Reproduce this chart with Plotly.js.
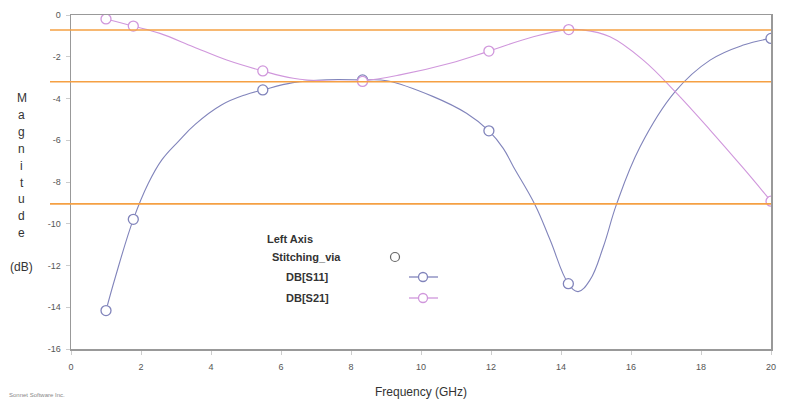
<!DOCTYPE html>
<html>
<head>
<meta charset="utf-8">
<script src="https://cdn.plot.ly/plotly-3.0.1.min.js"></script>
<style>html,body{margin:0;padding:0;background:#fff;}#chart{width:785px;height:412px;}</style>
</head>
<body>
<div id="chart"></div>
<script>
// ---- data ----
var s11Freq = [1.0, 1.26, 1.78, 2.21, 2.59, 3.07, 3.54, 4.31, 4.97, 5.48, 6.34, 7.3, 8.33, 9.02, 10.35, 11.3, 11.94, 12.35, 12.64, 13.26, 13.69, 14.21, 14.49, 14.83, 15.21, 15.59, 16.26, 17.26, 18.26, 19.21, 20];
var s11Db   = [-14.16, -12.6, -9.79, -8.06, -6.95, -6.05, -5.25, -4.3, -3.83, -3.59, -3.24, -3.1, -3.11, -3.15, -3.91, -4.71, -5.55, -6.39, -7.27, -9.1, -10.78, -12.87, -13.25, -12.69, -11.1, -9.05, -6.31, -3.67, -2.16, -1.44, -1.12];
var s21Freq = [1.0, 1.78, 2.54, 3.49, 4.45, 5.48, 6.35, 7.3, 8.33, 9.4, 10.83, 11.94, 13.21, 14.22, 14.6, 15.4, 16.35, 17.26, 18.26, 19.21, 20];
var s21Db   = [-0.19, -0.53, -0.88, -1.52, -2.16, -2.68, -3.03, -3.16, -3.15, -2.87, -2.31, -1.73, -1.04, -0.7, -0.71, -1.04, -2.16, -3.67, -5.51, -7.34, -8.92];
var s11MarkFreq = [1.0, 1.78, 5.48, 8.33, 11.94, 14.21, 20];
var s11MarkDb   = [-14.16, -9.79, -3.59, -3.11, -5.55, -12.87, -1.12];
var s21MarkFreq = [1.0, 1.78, 5.48, 8.33, 11.94, 14.22, 20];
var s21MarkDb   = [-0.19, -0.53, -2.68, -3.18, -1.73, -0.7, -8.92];
var refLevels = [-0.72, -3.2, -9.05];
var xTicks = [0, 2, 4, 6, 8, 10, 12, 14, 16, 18, 20];
var yTicks = [0, -2, -4, -6, -8, -10, -12, -14, -16];
var yTitleLetters = ["M", "a", "g", "n", "i", "t", "u", "d", "e"];
var legendTitle = "Left Axis";
var legendGroup = "Stitching_via";
var seriesNames = ["DB[S11]", "DB[S21]"];

var c11 = "#8184bb", c21 = "#d097dc", cOr = "#f5a043";
var FONT = "Liberation Sans, Arial, sans-serif";

var traces = [
  {x: s11Freq, y: s11Db, mode: "lines", line: {color: c11, width: 1.1, shape: "spline", smoothing: 1.15}, showlegend: false, hoverinfo: "skip"},
  {x: s21Freq, y: s21Db, mode: "lines", line: {color: c21, width: 1.1, shape: "spline", smoothing: 1.1}, showlegend: false, hoverinfo: "skip"},
  {x: s11MarkFreq, y: s11MarkDb, mode: "markers", marker: {symbol: "circle", size: 10, color: "#fff", line: {color: c11, width: 1.3}}, showlegend: false},
  {x: s21MarkFreq, y: s21MarkDb, mode: "markers", marker: {symbol: "circle", size: 10, color: "#fff", line: {color: c21, width: 1.3}}, showlegend: false}
];

var shapes = refLevels.map(function (v) {
  return {type: "line", xref: "paper", yref: "y", x0: -0.03, x1: 1, y0: v, y1: v, line: {color: cOr, width: 1.6}, layer: "above"};
});

// legend keys (decorative)
var lgColors = [c11, c21];
var lgY = [277, 298];
var H = 412, W = 785, L = 71, R = 14, T = 15, B = 63;
function px(x) { return (x - L) / (W - L - R); }
function py(y) { return 1 - (y - T) / (H - T - B); }
shapes.push({type: "circle", xref: "paper", yref: "paper", xsizemode: "pixel", ysizemode: "pixel", xanchor: px(395), yanchor: py(257), x0: -4.5, x1: 4.5, y0: -4.5, y1: 4.5, line: {color: "#666", width: 1.2}, fillcolor: "#fff"});
lgColors.forEach(function (c, i) {
  shapes.push({type: "line", xref: "paper", yref: "paper", x0: px(409), x1: px(438), y0: py(lgY[i]), y1: py(lgY[i]), line: {color: c, width: 1.3}});
  shapes.push({type: "circle", xref: "paper", yref: "paper", xsizemode: "pixel", ysizemode: "pixel", xanchor: px(423), yanchor: py(lgY[i]), x0: -4.5, x1: 4.5, y0: -4.5, y1: 4.5, line: {color: c, width: 1.3}, fillcolor: "#fff"});
});

var annotations = [];
yTitleLetters.forEach(function (ch, i) {
  annotations.push({text: ch, xref: "paper", yref: "paper", x: px(22), y: py(98 + i * 16.9), showarrow: false, xanchor: "center", yanchor: "middle", font: {family: FONT, size: 12, color: "#333"}});
});
annotations.push({text: "(dB)", xref: "paper", yref: "paper", x: px(22), y: py(267), showarrow: false, xanchor: "center", yanchor: "middle", font: {family: FONT, size: 12, color: "#333"}});
annotations.push({text: "<b>" + legendTitle + "</b>", xref: "paper", yref: "paper", x: px(265), y: py(239), showarrow: false, xanchor: "left", yanchor: "middle", font: {family: FONT, size: 11, color: "#333"}});
annotations.push({text: "<b>" + legendGroup + "</b>", xref: "paper", yref: "paper", x: px(270), y: py(257), showarrow: false, xanchor: "left", yanchor: "middle", font: {family: FONT, size: 11, color: "#333"}});
seriesNames.forEach(function (n, i) {
  annotations.push({text: "<b>" + n + "</b>", xref: "paper", yref: "paper", x: px(284), y: py(lgY[i]), showarrow: false, xanchor: "left", yanchor: "middle", font: {family: FONT, size: 11, color: "#333"}});
});
annotations.push({text: "Sonnet Software Inc.", xref: "paper", yref: "paper", x: px(7), y: py(395), showarrow: false, xanchor: "left", yanchor: "middle", font: {family: FONT, size: 6, color: "#888"}});

var layout = {
  width: W, height: H,
  margin: {l: L, r: R, t: T, b: B, pad: 0},
  paper_bgcolor: "#fff", plot_bgcolor: "#fff",
  font: {family: FONT, color: "#555"},
  showlegend: false,
  xaxis: {range: [0, 20], tickvals: xTicks, ticktext: xTicks.map(String), showgrid: false, zeroline: false,
          showline: true, linecolor: "#999", linewidth: 1.5, mirror: true, ticks: "outside", ticklen: 4, tickcolor: "#ccc",
          ticklabelstandoff: 5,
          tickfont: {size: 9, color: "#555"},
          title: {text: "Frequency (GHz)", font: {size: 12, color: "#333"}, standoff: 16}},
  yaxis: {range: [-16, 0], tickvals: yTicks, ticktext: yTicks.map(String), showgrid: false, zeroline: false,
          showline: true, linecolor: "#999", linewidth: 1.5, mirror: true, ticks: "outside", ticklen: 4, tickcolor: "#ccc",
          ticklabelstandoff: 3,
          tickfont: {size: 9, color: "#555"}},
  shapes: shapes,
  annotations: annotations
};

Plotly.newPlot("chart", traces, layout, {staticPlot: true});
</script>
</body>
</html>
